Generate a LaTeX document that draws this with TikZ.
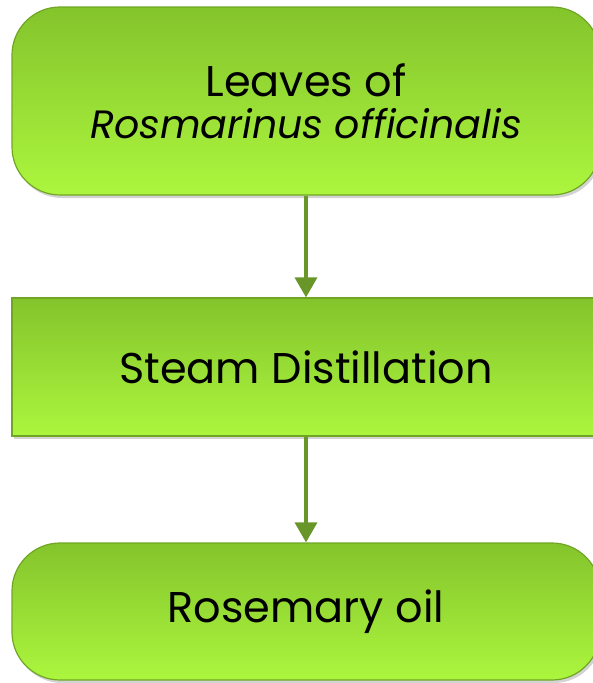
\documentclass[tikz,border=0pt]{standalone}
\usepackage{fontspec}
\setmainfont{Poppins}
\usetikzlibrary{arrows.meta,shadows}
\definecolor{leafTop}{RGB}{132,196,44}
\definecolor{leafBot}{RGB}{172,246,62}
\definecolor{leafLine}{RGB}{112,166,36}
\definecolor{stemArrow}{RGB}{104,150,40}
\begin{document}
\begin{tikzpicture}[x=1pt,y=1pt]
\tikzstyle{stepbox}=[draw=leafLine, line width=1.2pt, top color=leafTop, bottom color=leafBot,
  minimum width=588pt, inner sep=0pt, align=center, font=\fontsize{43}{42}\selectfont,
  drop shadow={shadow xshift=2pt, shadow yshift=-3pt, opacity=0.35}]
\tikzstyle{flow}=[stemArrow, line width=3.5pt, -{Triangle[length=20pt,width=22pt]}]
\useasboundingbox (0,0) rectangle (592,-683);
% boxes
\node [stepbox, rounded corners=48pt, minimum height=188pt] (leaves) at (306,-101) {Leaves of\\{\fontsize{39.5}{42}\selectfont\itshape Rosmarinus officinalis}};
\node [stepbox, minimum height=138pt] (steam) at (306,-367) {Steam Distillation};
\node [stepbox, rounded corners=48pt, minimum height=137pt] (oil) at (306,-611.5) {Rosemary oil};
% arrows
\draw [flow] (leaves) -- (steam);
\draw [flow] (steam) -- (oil);
\end{tikzpicture}
\end{document}
